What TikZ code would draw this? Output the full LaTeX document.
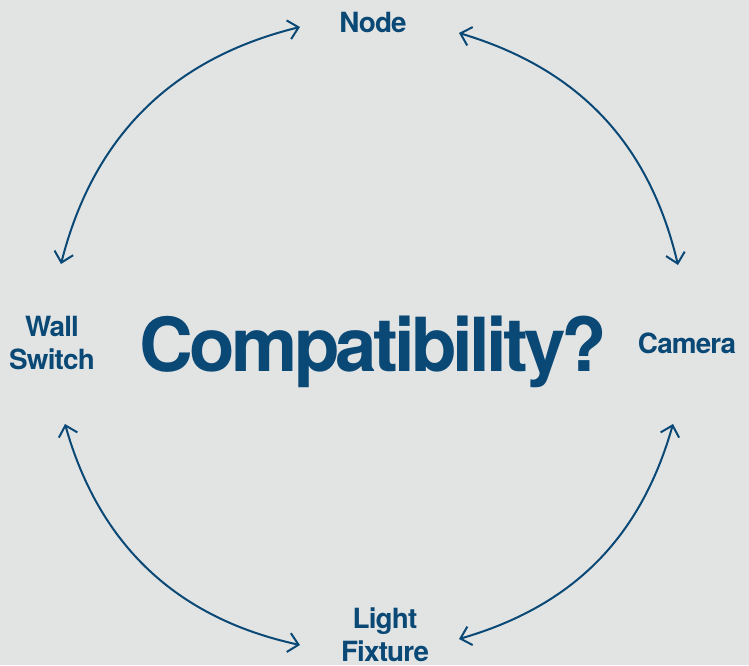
\documentclass[tikz,border=0pt]{standalone}
\usepackage{fontspec}
\setmainfont{TeX Gyre Heros}
\newfontfamily\labelfont[LetterSpace=-3]{TeX Gyre Heros}
\newfontfamily\titlefont[LetterSpace=-5.2]{TeX Gyre Heros}
\usetikzlibrary{arrows.meta}

\definecolor{bgGray}{HTML}{E2E4E4}
\definecolor{deepBlue}{HTML}{0A4875}

\tikzstyle{device} = [inner sep=0pt, align=center, text=deepBlue, font=\labelfont\bfseries\fontsize{19.8}{23.5}\selectfont]
\tikzstyle{question} = [inner sep=0pt, anchor=base, text=deepBlue, font=\titlefont\bfseries\fontsize{53}{60}\selectfont]
\tikzstyle{link} = [draw=deepBlue, line width=0.05cm, {Straight Barb[length=0.25cm,width=0.48cm]}-{Straight Barb[length=0.25cm,width=0.48cm]}]

\begin{document}
\begin{tikzpicture}[x=0.025cm, y=0.025cm]

	\fill [bgGray] (0,0) rectangle (749,665);
	\useasboundingbox (0,0) rectangle (749,665);

	\node (compat) [question] at (373.5,293) {Compatibility?};
	\node (node) [device] at (373,643) {Node};
	\node (camera) [device] at (687,322) {Camera};
	\node (wall) [device] at (52,322) {Wall\\Switch};
	\node (light) [device] at (385,30) {Light\\Fixture};

	\coordinate (wallTop) at (61,401);
	\coordinate (nodeLeft) at (300,638);
	\coordinate (nodeRight) at (459,632);
	\coordinate (cameraTop) at (678,400);
	\coordinate (cameraBottom) at (673,241);
	\coordinate (lightRight) at (459,26);
	\coordinate (lightLeft) at (300,20);
	\coordinate (wallBottom) at (65,241);

	\draw [link] (wallTop) to[bend left=31] (nodeLeft);
	\draw [link] (nodeRight) to[bend left=30] (cameraTop);
	\draw [link] (cameraBottom) to[bend left=29] (lightRight);
	\draw [link] (lightLeft) to[bend left=31] (wallBottom);

\end{tikzpicture}
\end{document}
